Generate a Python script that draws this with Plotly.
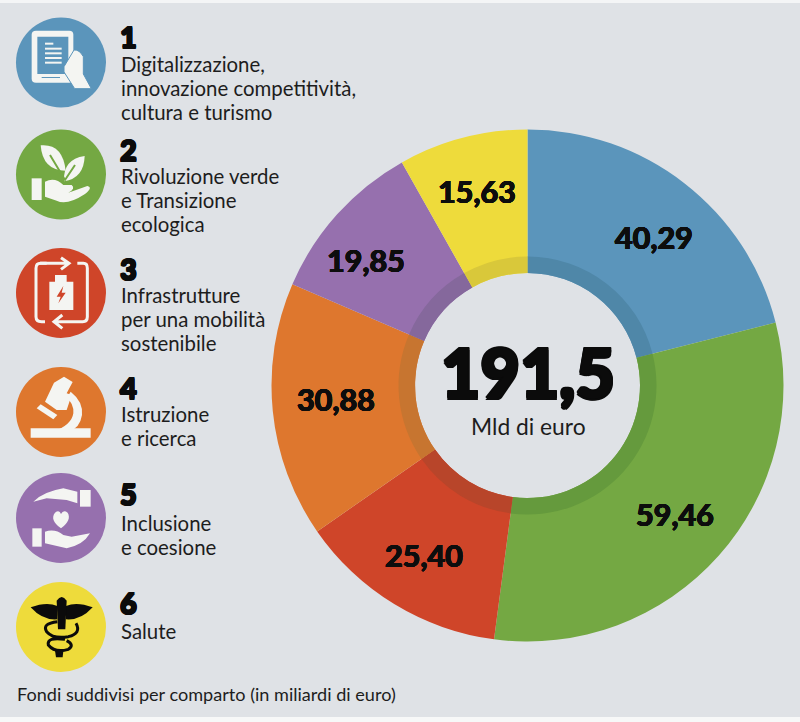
import re
import plotly.graph_objects as go

W, H = 800, 722
categories = ["Digitalizzazione", "Rivoluzione verde", "Infrastrutture", "Istruzione", "Inclusione", "Salute"]
values = [40.29, 59.46, 25.40, 30.88, 19.85, 15.63]
colors = ["#5b95bb", "#74a843", "#cf4529", "#de772e", "#9670ae", "#eedb3b"]
ring_colors = ["#4f87a8", "#659a3d", "#b8452a", "#c77530", "#85689c", "#d9c83a"]
label_pos = [(654, 237), (675, 514), (424, 555), (336, 399), (366, 260), (477, 191)]
total = "191,5"
total_unit = "Mld di euro"
footer = "Fondi suddivisi per comparto (in miliardi di euro)"
legend_rows = [
    ("1", 37, ["Digitalizzazione,", "innovazione competitività,", "cultura e turismo"], 64),
    ("2", 149, ["Rivoluzione verde", "e Transizione", "ecologica"], 176),
    ("3", 268, ["Infrastrutture", "per una mobilità", "sostenibile"], 295),
    ("4", 387, ["Istruzione", "e ricerca"], 414),
    ("5", 493, ["Inclusione", "e coesione"], 523),
    ("6", 602, ["Salute"], 631),
]
icon_centers = [(61, 62.5), (61, 174.5), (61, 293), (61, 412), (61, 518), (61, 627)]
BG = "#dfe2e6"
FONT = "Lato"
CX, CY, R_OUT, R_RING, R_HOLE = 527.5, 385.5, 256, 129, 112.5


def dom(r):
    return dict(x=[(CX - r) / W, (CX + r) / W], y=[1 - (CY + r) / H, 1 - (CY - r) / H])


def pie(cols, r):
    return go.Pie(labels=categories, values=values, sort=False, direction="clockwise", rotation=0,
                  hole=R_HOLE / r, marker=dict(colors=cols, line=dict(width=0)), textinfo="none",
                  hoverinfo="skip", showlegend=False, domain=dom(r))


fig = go.Figure([pie(colors, R_OUT), pie(ring_colors, R_RING)])

shapes, ann = [], []


def px(x, y):
    return x / W, 1 - y / H


def zpath(d, oy=0):
    """Icon outline written in px*3 crop units, converted to paper coordinates."""
    toks = re.findall(r"[A-Za-z]|-?\d+\.?\d*", d)
    out, i = [], 0
    while i < len(toks):
        if toks[i].isalpha():
            out.append(toks[i]); i += 1
        else:
            xx, yy = px(float(toks[i]) / 3, float(toks[i + 1]) / 3 + oy)
            out.append(f"{xx:.5f},{yy:.5f}"); i += 2
    return " ".join(out)


def path(d, fill=None, line=None, lw=0, oy=0):
    shapes.append(dict(type="path", xref="paper", yref="paper", path=zpath(d, oy),
                       fillcolor=fill or "rgba(0,0,0,0)",
                       line=dict(color=line or "rgba(0,0,0,0)", width=lw)))


def rect(x0, y0, x1, y1, fill, oy=0):
    path(f"M {x0} {y0} L {x1} {y0} L {x1} {y1} L {x0} {y1} Z", fill=fill, oy=oy)


# page edges
_, y1 = px(800, 3)
shapes.append(dict(type="rect", xref="paper", yref="paper", x0=0, x1=1, y0=y1, y1=1, fillcolor="#f4f5f6", line_width=0))
_, y0 = px(0, 717)
shapes.append(dict(type="rect", xref="paper", yref="paper", x0=0, x1=1, y0=0, y1=y0, fillcolor="#f7f8f8", line_width=0))

# icon discs
for (cx, cy), c in zip(icon_centers, colors):
    xa, ya = px(cx - 45, cy - 45); xb, yb = px(cx + 45, cy + 45)
    shapes.append(dict(type="circle", xref="paper", yref="paper", x0=xa, x1=xb, y0=yb, y1=ya, fillcolor=c, line_width=0))

W_ = "#f4f5f2"
blue, green, red, orange, purple, yellow = colors
# icon 1: tablet and hand
path("M 108 92 L 208 92 Q 220 92 220 104 L 220 236 Q 220 248 208 248 L 108 248 Q 95 248 95 236 L 95 104 Q 95 92 108 92 Z", fill=W_)
rect(112, 110, 205, 222, blue)
for yy, xe in zip((128, 143, 157, 171, 185), (160, 185, 185, 185, 185)):
    rect(135, yy, xe, yy + 6, W_)
rect(125, 231, 180, 234, blue)
path("M 192 200 L 222 150 Q 238 148 250 170 L 250 222 L 274 266 L 224 266 L 192 216 Z", fill=W_, line=blue, lw=1)

# icon 2: leaves and hand
path("M 122 436 Q 188 430 197 512 Q 128 512 122 436 Z", fill=W_)
path("M 254 468 Q 252 535 192 544 Q 188 478 254 468 Z", fill=W_)
path("M 150 465 L 195 540 L 225 495", line=green, lw=2)
rect(95, 535, 125, 600, W_)
path("M 135 545 Q 165 530 190 555 L 215 555 Q 228 566 205 578 L 262 558 Q 280 562 255 582 Q 200 618 170 602 L 135 590 Z", fill=W_)

# icon 3: arrows and battery
path("M 140 790 L 122 790 Q 108 790 108 805 L 108 950 Q 108 965 125 965 L 135 965", line=W_, lw=3)
path("M 120 790 L 205 790 M 183 773 L 207 790 L 183 808", line=W_, lw=3)
path("M 232 790 L 250 790 Q 262 790 262 805 L 262 950 Q 262 965 248 965 L 165 965 M 187 945 L 162 965 L 187 985", line=W_, lw=3)
path("M 148 845 L 165 845 L 165 825 L 200 825 L 200 845 L 220 845 L 220 930 L 148 930 Z", fill=W_)
path("M 190 858 L 170 890 L 182 890 L 175 910 L 197 878 L 185 878 Z", fill=red)

# icon 4: microscope
rect(92, 205, 272, 233, W_, oy=360)
path("M 162 68 L 192 50 L 218 66 L 200 100 L 215 105 L 200 150 L 170 150 L 135 125 Z", fill=W_, oy=360)
path("M 110 145 L 122 133 L 172 165 L 160 178 Z", fill=W_, oy=360)
path("M 212 95 Q 250 125 246 165 Q 240 205 205 215 L 160 215 Q 215 195 220 160 Q 222 130 200 115 Z", fill=W_, oy=360)

# icon 5: hands and heart
path("M 100 425 Q 130 395 190 385 L 232 395 L 232 430 L 200 420 L 140 415 Z", fill=W_, oy=360)
rect(240, 390, 272, 440, W_, oy=360)
path("M 183 505 Q 148 480 165 458 Q 178 448 183 462 Q 190 448 203 458 Q 216 480 183 505 Z", fill=W_, oy=360)
rect(97, 505, 125, 560, W_, oy=360)
path("M 135 515 Q 165 505 190 525 L 215 530 L 270 520 Q 250 555 200 565 L 135 550 Z", fill=W_, oy=360)

# icon 6: caduceus
K = "#0b0b0b"
path("M 92 742 Q 140 724 172 738 L 172 778 Q 128 782 92 742 Z", fill=K, oy=360)
path("M 278 742 Q 230 724 198 738 L 198 778 Q 242 782 278 742 Z", fill=K, oy=360)
path("M 170 722 Q 185 700 200 722 L 196 808 L 174 808 Z", fill=K, oy=360)
path("M 172 785 Q 125 790 140 815 Q 160 838 205 830 Q 245 820 228 790 M 195 838 Q 140 830 145 855 Q 165 880 205 868 Q 225 855 200 842", line=K, lw=3, oy=360)
path("M 165 872 L 190 872 L 188 892 L 168 892 Z", fill=K, oy=360)


def thick(w, color):
    return ",".join(f"{dx}px {dy}px 0 {color}" for dx, dy in ((w, 0), (-w, 0), (0, w), (0, -w), (w, w), (-w, -w), (w, -w), (-w, w)))


def text(x, y, s, size, color="#1d1d1d", weight=400, anchor="left", bold=0):
    xx, yy = px(x, y)
    f = dict(family=FONT, size=size, color=color, weight=weight)
    if bold:
        f["shadow"] = thick(bold, color)
    ann.append(dict(x=xx, y=yy, xref="paper", yref="paper", text=s, showarrow=False, xanchor=anchor, yanchor="middle", font=f))


for v, (x, y) in zip(values, label_pos):
    text(x, y, f"{v:.2f}".replace(".", ","), 30.5, "#0d0d0d", 700, "center", 0.4)
text(528, 371, total, 68, "#0b0b0b", 900, "center", 1.5)
text(528, 426, total_unit, 22.8, "#1d1d1d", 400, "center")
text(15, 694, footer, 18.1)
for num, ny, lines, ly in legend_rows:
    text(118, ny, num, 29, "#0b0b0b", 900, bold=0.8)
    for i, ln in enumerate(lines):
        text(119, ly + 24 * i, ln, 20.4)

fig.update_layout(width=W, height=H, margin=dict(l=0, r=0, t=0, b=0), paper_bgcolor=BG, plot_bgcolor=BG,
                  shapes=shapes, annotations=ann, showlegend=False, font=dict(family=FONT))
fig.write_html("out.html", config=dict(displayModeBar=False), post_script="document.body.style.margin='0';document.body.style.background='%s';" % BG)
